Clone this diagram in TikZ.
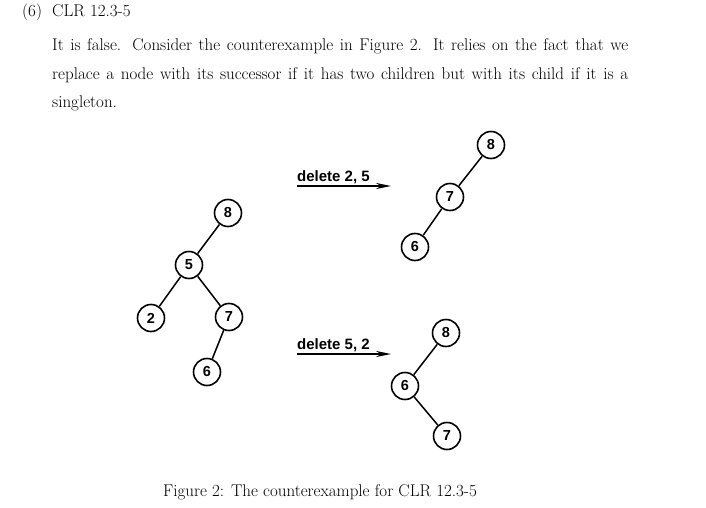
\documentclass[tikz,border=0pt]{standalone}
\usepackage{fontspec}
\newfontfamily\helv{Liberation Sans}
\usetikzlibrary{positioning,arrows.meta}

\begin{document}
\begin{tikzpicture}[x=1pt,y=-1pt,>={Stealth[length=15pt,width=6pt]},
  key/.style={circle,draw,line width=1.6pt,minimum size=27pt,inner sep=0pt,
    font=\helv\bfseries\fontsize{14.5}{14.5}\selectfont},
  edge/.style={line width=1.5pt},
  op/.style={font=\helv\bfseries\fontsize{15}{15}\selectfont,anchor=base west,inner sep=0pt},
  txt/.style={font=\fontsize{17}{20}\selectfont,anchor=base west,inner sep=0pt}]
  \useasboundingbox (0,0) rectangle (706,508);
  % text above the figure
  \node[txt] (head) at (22,17) {(6)\hspace{0.6em}CLR 12.3-5};
  \node[txt] (l1) at (52,51) {\makebox[576pt][s]{It is false. Consider the counterexample in Figure 2. It relies on the fact that we}};
  \node[txt] (l2) at (52,80) {\makebox[576pt][s]{replace a node with its successor if it has two children but with its child if it is a}};
  \node[txt] (l3) at (52,108) {singleton.};
  % original tree
  \node[key] (a8) at (228,213) {8};
  \node[key] (a5) at (189,265) {5};
  \node[key] (a2) at (151,318) {2};
  \node[key] (a7) at (229,317) {7};
  \node[key] (a6) at (207,372) {6};
  \draw[edge] (a8) -- (a5); \draw[edge] (a5) -- (a2); \draw[edge] (a5) -- (a7); \draw[edge] (a7) -- (a6);
  % delete 2, 5
  \coordinate (p1) at (297,186); \coordinate (q1) at (391,186);
  \draw[->,line width=1.5pt] (p1) -- (q1);
  \node[op] (d1) at (297,181) {delete 2, 5};
  \node[key] (b8) at (491,145) {8};
  \node[key] (b7) at (450,197) {7};
  \node[key] (b6) at (415,247) {6};
  \draw[edge] (b8) -- (b7); \draw[edge] (b7) -- (b6);
  % delete 5, 2
  \coordinate (p2) at (297,354); \coordinate (q2) at (391,354);
  \draw[->,line width=1.5pt] (p2) -- (q2);
  \node[op] (d2) at (297,349) {delete 5, 2};
  \node[key] (c8) at (446,333) {8};
  \node[key] (c6) at (405,386) {6};
  \node[key] (c7) at (447,436) {7};
  \draw[edge] (c8) -- (c6); \draw[edge] (c6) -- (c7);
  % caption
  \node[txt,anchor=base] (cap) at (320,496) {Figure 2: The counterexample for CLR 12.3-5};
\end{tikzpicture}
\end{document}
